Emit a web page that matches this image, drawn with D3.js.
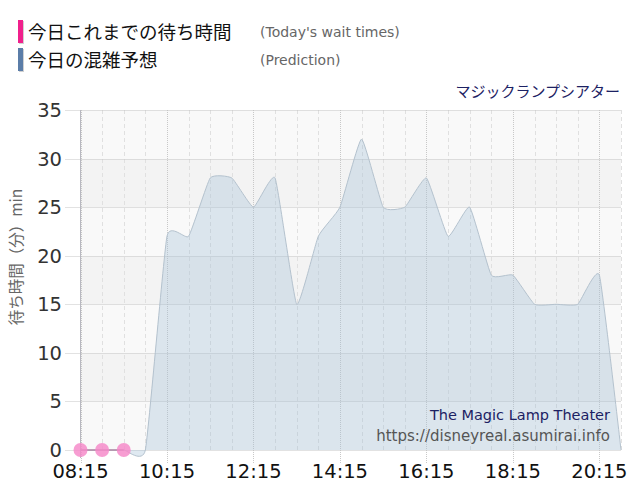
<!DOCTYPE html>
<html><head><meta charset="utf-8">
<script src="https://cdn.jsdelivr.net/npm/d3@7"></script>
<style>
html,body{margin:0;padding:0;background:#fff;}
svg{display:block;}
</style></head>
<body>
<script>
// ---- data ----
const times = ["08:15","08:45","09:15","09:45","10:15","10:45","11:15","11:45","12:15","12:45","13:15","13:45","14:15","14:45","15:15","15:45","16:15","16:45","17:15","17:45","18:15","18:45","19:15","19:45","20:15","20:45"];
const prediction = [0,0,0,0,22,22,28,28,25,28,15,22,25,32,25,25,28,22,25,18,18,15,15,15,18,0];
const actualTimes = ["08:15","08:45","09:15"];
const actual = [0,0,0];
const xTickLabels = ["08:15","10:15","12:15","14:15","16:15","18:15","20:15"];
const yTicks = [0,5,10,15,20,25,30,35];
const legendJa = ["今日これまでの待ち時間","今日の混雑予想"];
const legendEn = ["(Today's wait times)","(Prediction)"];
const legendColors = ["#f0208c","#5b7da8"];
const attraction = "マジックランプシアター";
const attractionEn = "The Magic Lamp Theater";
const siteUrl = "https://disneyreal.asumirai.info";
const yTitle = "待ち時間（分）min";

const toMin = s => { const [h,m] = s.split(":").map(Number); return h*60+m; };

const W = 640, H = 500;
const L = 80.5, R = 621, T = 110, B = 450;
const svg = d3.select("body").append("svg").attr("width",W).attr("height",H);
const jaFont = "'Noto Sans CJK JP','Noto Sans',sans-serif";
const latFont = "'DejaVu Sans',Verdana,sans-serif";

const x = d3.scaleLinear().domain([toMin(times[0]), toMin(times[times.length-1])]).range([L,R]);
const y = d3.scaleLinear().domain([0,35]).range([B,T]);

// bands
const bands = d3.range(0,35,5);
svg.append("g").selectAll("rect").data(bands).join("rect")
  .attr("x",L).attr("width",R-L)
  .attr("y",d=>y(d+5)).attr("height",d=>y(d)-y(d+5))
  .attr("fill",(d,i)=> (i%2===0) ? "#f9f9f9" : "#f3f3f3");

// vertical grid
const minorTicks = d3.range(toMin(times[0]), toMin(times[times.length-1])+1, 30);
const majorSet = new Set(xTickLabels.map(toMin));
svg.append("g").selectAll("line").data(minorTicks.filter(t=>!majorSet.has(t))).join("line")
  .attr("x1",d=>Math.round(x(d))+0.5).attr("x2",d=>Math.round(x(d))+0.5)
  .attr("y1",T).attr("y2",B)
  .attr("stroke","#e0e0e0").attr("stroke-dasharray","4,3");
svg.append("g").selectAll("line").data(xTickLabels.map(toMin)).join("line")
  .attr("x1",d=>Math.round(x(d))+0.5).attr("x2",d=>Math.round(x(d))+0.5)
  .attr("y1",T).attr("y2",B+14)
  .attr("stroke","#c8c8c8").attr("stroke-dasharray","1,1");

// horizontal grid
svg.append("g").selectAll("line").data(yTicks).join("line")
  .attr("x1",L).attr("x2",R)
  .attr("y1",d=>Math.round(y(d))+0.5).attr("y2",d=>Math.round(y(d))+0.5)
  .attr("stroke","#c4c4c4").attr("stroke-dasharray","1,1");
svg.append("g").selectAll("line").data(yTicks).join("line")
  .attr("x1",65).attr("x2",L)
  .attr("y1",d=>Math.round(y(d))+0.5).attr("y2",d=>Math.round(y(d))+0.5)
  .attr("stroke","#e2e2e2");

// prediction area
const pts = times.map((t,i)=>({t:toMin(t), v:prediction[i]}));
const curve = d3.curveCardinal.tension(0.6);
svg.append("path").datum(pts)
  .attr("d", d3.area().x(d=>x(d.t)).y0(y(0)).y1(d=>y(d.v)).curve(curve))
  .attr("fill","rgba(160,190,215,0.34)");
svg.append("path").datum(pts)
  .attr("d", d3.line().x(d=>x(d.t)).y(d=>y(d.v)).curve(curve))
  .attr("fill","none").attr("stroke","#b4c2ce").attr("stroke-width",1);

// y axis line
svg.append("line").attr("x1",L).attr("x2",L).attr("y1",T).attr("y2",B+8)
  .attr("stroke","#b8b8c0");

// actual line + points
const apts = actualTimes.map((t,i)=>({t:toMin(t), v:actual[i]}));
svg.append("path").datum(apts)
  .attr("d", d3.line().x(d=>x(d.t)).y(d=>y(d.v)))
  .attr("fill","none").attr("stroke","#a06088").attr("stroke-width",1);
svg.append("g").selectAll("circle").data(apts).join("circle")
  .attr("cx",d=>x(d.t)).attr("cy",d=>y(d.v)).attr("r",7)
  .attr("fill","rgba(245,135,200,0.82)");

// y labels
svg.append("g").selectAll("text").data(yTicks).join("text")
  .attr("x",62).attr("y",d=>y(d)).attr("dy","0.36em")
  .attr("text-anchor","end").attr("font-family",latFont).attr("font-size",19.5)
  .attr("fill","#333").text(d=>d);
// x labels
svg.append("g").selectAll("text").data(xTickLabels).join("text")
  .attr("x",d=>x(toMin(d))).attr("y",478)
  .attr("text-anchor","middle").attr("font-family",latFont).attr("font-size",19.5)
  .attr("fill","#111").text(d=>d);

// y title
svg.append("text").attr("transform","translate(22,257) rotate(-90)")
  .attr("text-anchor","middle").attr("font-family",jaFont).attr("font-size",15.5)
  .attr("fill","#666").text(yTitle);

// legend
legendJa.forEach((s,i)=>{
  const cy = 32 + i*28;
  svg.append("rect").attr("x",19).attr("y",cy-11).attr("width",5).attr("height",23).attr("fill","#d0d0d0");
  svg.append("rect").attr("x",18).attr("y",cy-12).attr("width",5).attr("height",23).attr("fill",legendColors[i]);
  svg.append("text").attr("x",28).attr("y",cy).attr("dy","0.36em")
    .attr("font-family",jaFont).attr("font-size",18.5).attr("fill","#111").text(s);
  svg.append("text").attr("x",260).attr("y",cy).attr("dy","0.35em")
    .attr("font-family",latFont).attr("font-size",14).attr("fill","#666").text(legendEn[i]);
});

// title
svg.append("text").attr("x",620).attr("y",92).attr("dy","0.35em").attr("text-anchor","end")
  .attr("font-family",jaFont).attr("font-size",15).attr("fill","#1c2163").text(attraction);

// watermark
svg.append("text").attr("x",610).attr("y",415).attr("dy","0.35em").attr("text-anchor","end")
  .attr("font-family",latFont).attr("font-size",14.5).attr("fill","#1c2163").text(attractionEn);
svg.append("text").attr("x",610).attr("y",436).attr("dy","0.35em").attr("text-anchor","end")
  .attr("font-family",latFont).attr("font-size",15).attr("fill","#555").text(siteUrl);
</script>
</body></html>
